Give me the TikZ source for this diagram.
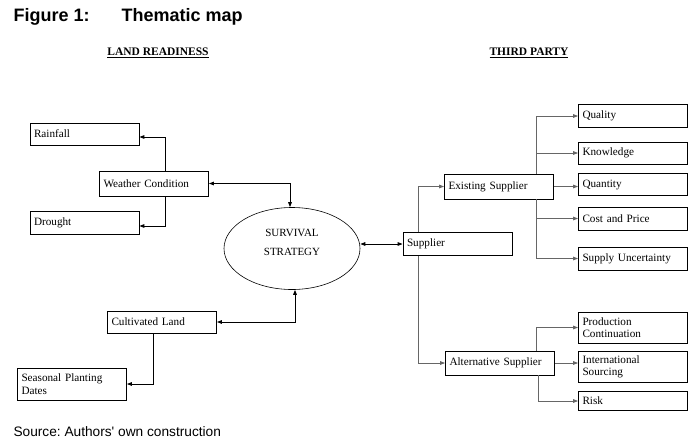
\documentclass[tikz,border=0pt]{standalone}
\usepackage{fontspec}
\setmainfont{Liberation Serif}
\newfontfamily\arialfont{Liberation Sans}
\usepackage{tikz}
\usetikzlibrary{shapes.geometric}
\usetikzlibrary{arrows.meta}
\frenchspacing
\tikzset{factor/.style={draw, line width=0.8pt, rectangle, minimum width=109pt, text width=101pt, align=left, inner xsep=4pt, inner ysep=2pt, font=\fontsize{11.2}{12.5}\selectfont}}
\tikzset{lnk/.style={-{Triangle[length=5pt,width=3.6pt]}, line width=0.9pt}}
\tikzset{glnk/.style={lnk, draw=black!60, line width=0.8pt}}
\tikzset{heading/.style={font=\bfseries\fontsize{11.5}{13}\selectfont}}

\begin{document}
\begin{tikzpicture}[x=1pt,y=-1pt]
  \useasboundingbox (0,0) rectangle (698,445);
  \node[anchor=base west, font=\arialfont\bfseries\fontsize{18}{20}\selectfont] (title) at (10,21) {Figure 1:\hspace{32pt}Thematic map};
  \node[heading] (landhd) at (158,53) {\underline{LAND READINESS}};
  \node[heading] (thirdhd) at (529,53) {\underline{THIRD PARTY}};
  \foreach \x/\y/\h/\lab/\txt in {
    84.5/134/22/rain/Rainfall,
    154/183.5/25/weather/Weather Condition,
    84.5/222.5/23/drought/Drought,
    162/322/22/cult/Cultivated Land,
    72/384/32/seas/{Seasonal Planting\\Dates},
    457.5/244/23/sup/Supplier,
    499/186.5/25/exist/Existing Supplier,
    500/363/24/alt/Alternative Supplier,
    633/116/23/qual/Quality,
    633/153/22/know/Knowledge,
    633/184.5/22/quant/Quantity,
    633/218.5/23/cost/Cost and Price,
    633/258.5/23/unc/Supply Uncertainty,
    633/327.5/31/prod/{Production\\Continuation},
    633/367/31/intl/{International\\Sourcing},
    633/401/19/risk/Risk%
  } {
    \node[factor, minimum height=\h pt] (\lab) at (\x, \y) {\txt};
  }
  \node[ellipse, draw, line width=0.6pt, minimum width=136pt, minimum height=82pt, align=center, font=\fontsize{11}{12.5}\selectfont] (surv) at (292,248.5) {SURVIVAL\\[6pt]STRATEGY\\[0pt]\mbox{}};
  \node[anchor=base west, font=\arialfont\fontsize{13.7}{16}\selectfont] (source) at (10,436) {Source: Authors' own construction};

  \draw[lnk] ([xshift=11pt]weather.north) |- ([yshift=-3pt]rain.east);
  \draw[lnk] ([xshift=11pt]weather.south) |- ([yshift=-3.5pt]drought.east);
  \draw[lnk, {Triangle[length=5pt,width=3.6pt]}-{Triangle[length=5pt,width=3.6pt]}] (weather.east) -| ([xshift=-2pt]surv.north);
  \draw[lnk, {Triangle[length=5pt,width=3.6pt]}-{Triangle[length=5pt,width=3.6pt]}] (cult.east) -| ([xshift=3pt]surv.south);
  \draw[lnk] ([xshift=-9pt]cult.south) |- (seas.east);
  \draw[lnk, {Triangle[length=5pt,width=3.6pt]}-{Triangle[length=5pt,width=3.6pt]}] (surv.east |- sup.west) -- (sup.west);

  \draw[glnk] ([xshift=-39.5pt]sup.north) |- (exist.west);
  \draw[glnk] ([xshift=-39.5pt]sup.south) |- (alt.west);
  \foreach \v in {qual, know} {
    \draw[glnk] ([xshift=37pt]exist.north) |- (\v.west);
  }
  \foreach \v in {cost, unc} {
    \draw[glnk] ([xshift=37pt]exist.south) |- (\v.west);
  }
  \draw[glnk] (exist.east) -- (exist.east -| quant.west);
  \draw[glnk] ([xshift=36pt]alt.north) |- (prod.west);
  \draw[glnk] (alt.east) -- (alt.east -| intl.west);
  \draw[glnk] ([xshift=38pt]alt.south) |- (risk.west);
\end{tikzpicture}
\end{document}
